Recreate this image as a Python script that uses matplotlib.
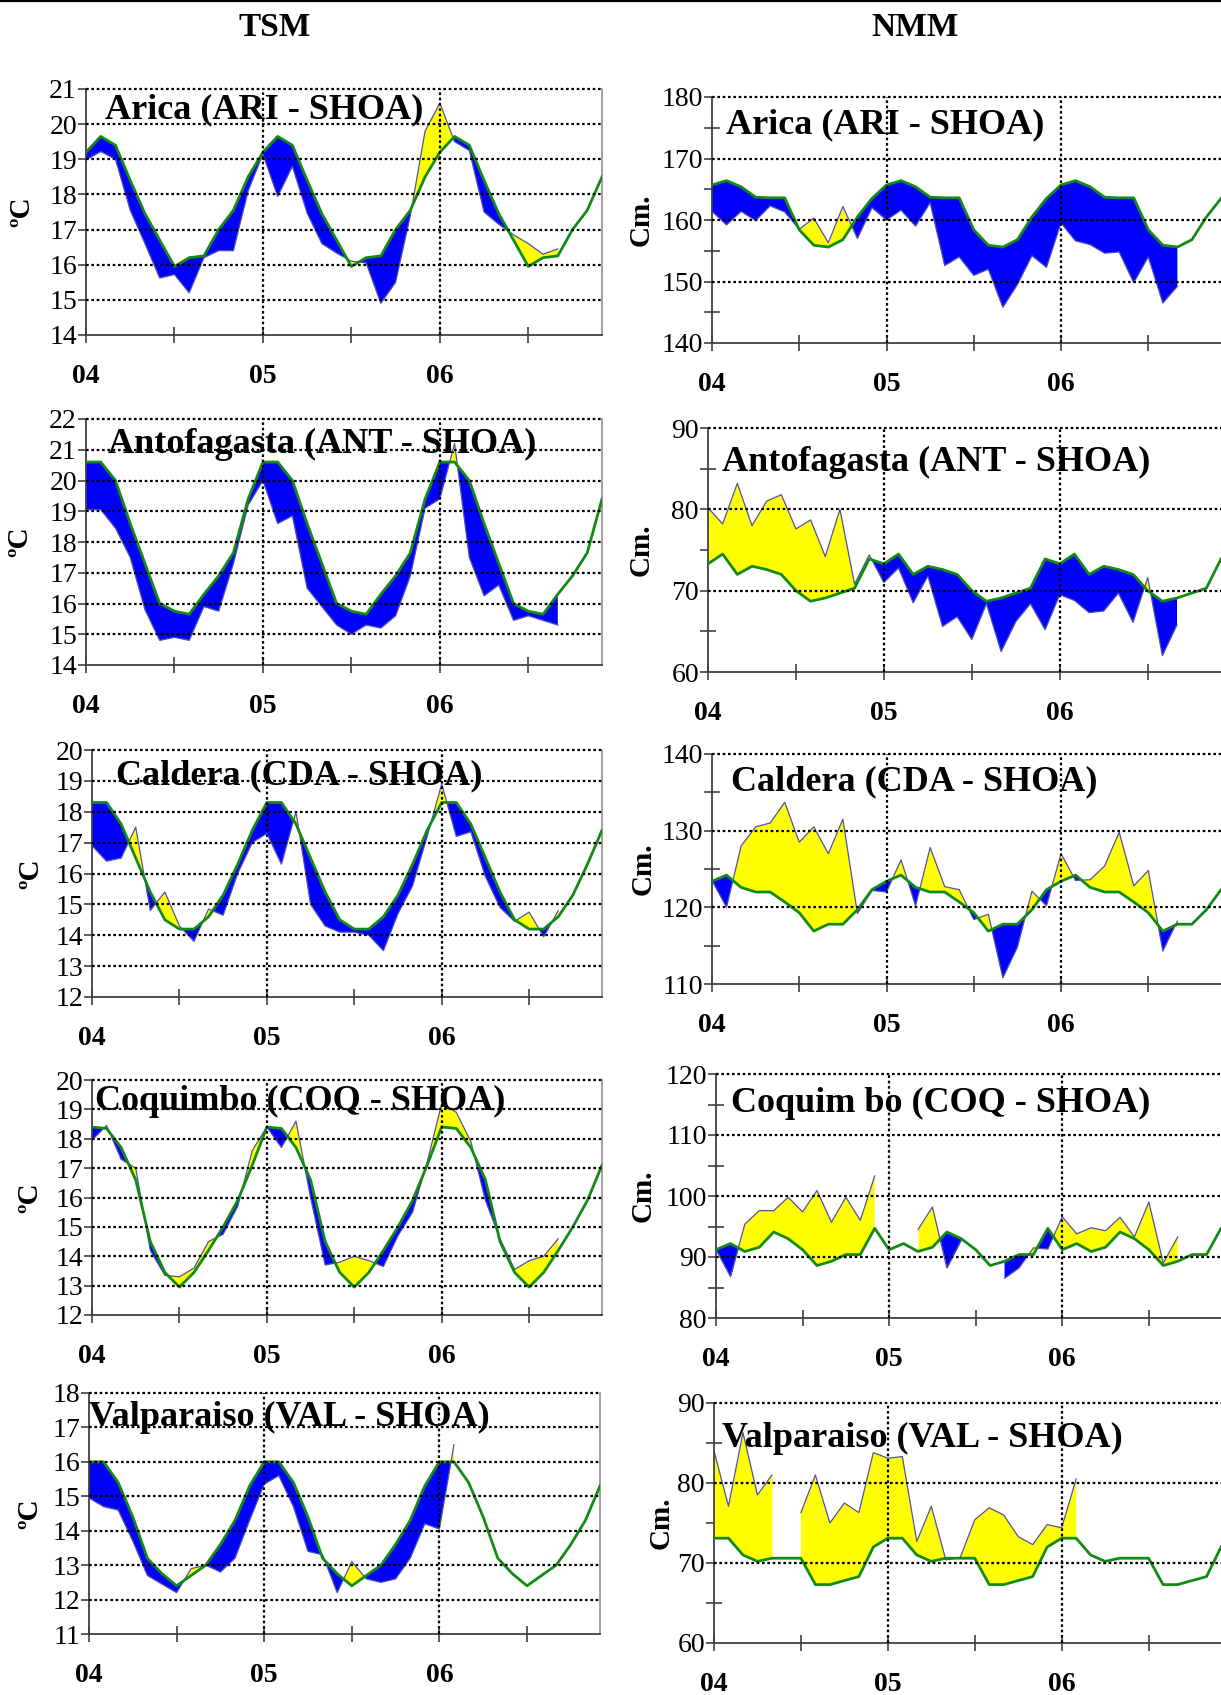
import numpy as np
import matplotlib
matplotlib.use("Agg")
import matplotlib.pyplot as plt
from matplotlib.lines import Line2D
from matplotlib.ticker import MultipleLocator

plt.rcParams['font.family'] = ['Liberation Serif', 'DejaVu Serif']

W, H = 1221, 1695

# monthly index: 0 = Jan 2004 ... 35 = Dec 2006
x_labels = ['04', '', '05', '', '06', '']

# ---- TSM (sea surface temperature, degC) ----
tsm_ari_clim = [19.2, 19.65, 19.4, 18.4, 17.45, 16.7, 15.95, 16.2, 16.25, 17.0, 17.55, 18.5,
                19.2, 19.65, 19.4, 18.4, 17.45, 16.7, 15.95, 16.2, 16.25, 17.0, 17.55, 18.5,
                19.2, 19.65, 19.4, 18.4, 17.45, 16.7, 15.95, 16.2, 16.25, 17.0, 17.55, 18.5]
tsm_ari_obs = [18.98, 19.22, 19.0, 17.55, 16.6, 15.62, 15.72, 15.2, 16.2, 16.4, 16.4, 18.1,
               19.15, 17.94, 18.8, 17.47, 16.6, 16.33, 16.1, 16.05, 14.9, 15.5, 17.4, 19.8,
               20.6, 19.5, 19.25, 17.5, 17.15, 16.85, 16.6, 16.3, 16.45]

tsm_ant_clim = [20.6, 20.6, 20.0, 18.6, 17.3, 16.0, 15.75, 15.65, 16.3, 16.9, 17.65, 19.4,
                20.6, 20.6, 20.0, 18.6, 17.3, 16.0, 15.75, 15.65, 16.3, 16.9, 17.65, 19.4,
                20.6, 20.6, 20.0, 18.6, 17.3, 16.0, 15.75, 15.65, 16.3, 16.9, 17.65, 19.4]
tsm_ant_obs = [19.05, 19.05, 18.45, 17.5, 15.8, 14.8, 14.9, 14.8, 15.9, 15.75, 17.3, 19.2,
               20.0, 18.6, 18.85, 16.5, 15.9, 15.3, 15.0, 15.3, 15.2, 15.6, 16.9, 19.1,
               19.4, 21.2, 17.5, 16.25, 16.6, 15.45, 15.6, 15.45, 15.3]

tsm_cda_clim = [18.3, 18.3, 17.6, 16.5, 15.4, 14.5, 14.2, 14.2, 14.6, 15.3, 16.3, 17.4,
                18.3, 18.3, 17.6, 16.5, 15.4, 14.5, 14.2, 14.2, 14.6, 15.3, 16.3, 17.4,
                18.3, 18.3, 17.6, 16.5, 15.4, 14.5, 14.2, 14.2, 14.6, 15.3, 16.3, 17.4]
tsm_cda_obs = [16.9, 16.4, 16.5, 17.5, 14.8, 15.4, 14.3, 13.8, 14.85, 14.65, 16.0, 17.0,
               17.3, 16.3, 18.0, 15.0, 14.3, 14.1, 14.1, 14.0, 13.5, 14.7, 15.6, 17.2,
               18.9, 17.2, 17.35, 15.9, 14.9, 14.45, 14.75, 13.95, 14.8]

tsm_coq_clim = [18.4, 18.35, 17.7, 16.6, 14.5, 13.45, 12.95, 13.45, 14.2, 15.0, 15.9, 17.1,
                18.4, 18.35, 17.7, 16.6, 14.5, 13.45, 12.95, 13.45, 14.2, 15.0, 15.9, 17.1,
                18.4, 18.35, 17.7, 16.6, 14.5, 13.45, 12.95, 13.45, 14.2, 15.0, 15.9, 17.1]
tsm_coq_obs = [17.95, 18.45, 17.3, 17.0, 14.2, 13.35, 13.3, 13.6, 14.5, 14.75, 15.7, 17.6,
               18.4, 17.7, 18.6, 16.0, 13.7, 13.8, 14.0, 13.85, 13.65, 14.7, 15.5, 17.2,
               19.2, 18.9, 17.9, 15.9, 14.6, 13.55, 13.85, 14.0, 14.6]

tsm_val_clim = [16.0, 16.0, 15.4, 14.4, 13.2, 12.75, 12.4, 12.7, 13.0, 13.6, 14.3, 15.3,
                16.0, 16.0, 15.4, 14.4, 13.2, 12.75, 12.4, 12.7, 13.0, 13.6, 14.3, 15.3,
                16.0, 16.0, 15.4, 14.4, 13.2, 12.75, 12.4, 12.7, 13.0, 13.6, 14.3, 15.3]
tsm_val_obs = [14.95, 14.7, 14.6, 13.7, 12.7, 12.45, 12.2, 12.9, 13.0, 12.8, 13.2, 14.3,
               15.35, 15.6, 14.7, 13.4, 13.3, 12.2, 13.1, 12.6, 12.5, 12.6, 13.2, 14.2,
               14.05, 16.5]

# ---- NMM (mean sea level, cm) ----
nmm_ari_clim = [165.7, 166.4, 165.4, 163.7, 163.6, 163.6, 158.4, 155.9, 155.6, 156.8, 160.5, 163.5,
                165.7, 166.4, 165.4, 163.7, 163.6, 163.6, 158.4, 155.9, 155.6, 156.8, 160.5, 163.5,
                165.7, 166.4, 165.4, 163.7, 163.6, 163.6, 158.4, 155.9, 155.6, 156.8, 160.5, 163.5]
nmm_ari_obs = [161.4, 159.2, 161.4, 159.9, 162.3, 161.3, 158.5, 160.3, 156.3, 162.2, 157.0, 162.0,
               160.0, 161.6, 159.0, 162.8, 152.6, 154.0, 151.0, 152.0, 145.8, 149.5, 154.2, 152.3,
               159.5, 156.6, 156.0, 154.6, 154.8, 149.8, 154.0, 146.5, 149.2]

nmm_ant_clim = [73.3, 74.5, 72.0, 73.0, 72.6, 72.0, 70.0, 68.7, 69.1, 69.7, 70.3, 73.9,
                73.3, 74.5, 72.0, 73.0, 72.6, 72.0, 70.0, 68.7, 69.1, 69.7, 70.3, 73.9,
                73.3, 74.5, 72.0, 73.0, 72.6, 72.0, 70.0, 68.7, 69.1, 69.7, 70.3, 73.9]
nmm_ant_obs = [80.2, 78.2, 83.2, 78.0, 81.0, 81.8, 77.6, 78.7, 74.2, 80.0, 70.8, 74.4,
               71.0, 72.8, 68.5, 71.8, 65.6, 66.8, 64.0, 68.4, 62.5, 66.2, 68.4, 65.2,
               69.5, 68.8, 67.3, 67.5, 69.7, 66.1, 71.6, 62.0, 65.8]

nmm_cda_clim = [123.4, 124.2, 122.6, 122.0, 122.0, 120.7, 119.3, 116.9, 117.8, 117.8, 119.7, 122.3,
                123.4, 124.2, 122.6, 122.0, 122.0, 120.7, 119.3, 116.9, 117.8, 117.8, 119.7, 122.3,
                123.4, 124.2, 122.6, 122.0, 122.0, 120.7, 119.3, 116.9, 117.8, 117.8, 119.7, 122.3]
nmm_cda_obs = [123.5, 120.0, 128.0, 130.5, 131.0, 133.7, 128.5, 130.5, 127.0, 131.5, 119.2, 122.2,
               122.0, 126.2, 120.2, 127.8, 122.7, 122.3, 118.4, 119.1, 110.8, 114.8, 122.1, 120.2,
               127.0, 123.5, 123.6, 125.4, 129.8, 122.8, 124.8, 114.3, 118.2]

nmm_coq_clim = [91.2, 92.2, 90.9, 91.6, 94.1, 93.0, 91.2, 88.6, 89.3, 90.4, 90.4, 94.7,
                91.2, 92.2, 90.9, 91.6, 94.1, 93.0, 91.2, 88.6, 89.3, 90.4, 90.4, 94.7,
                91.2, 92.2, 90.9, 91.6, 94.1, 93.0, 91.2, 88.6, 89.3, 90.4, 90.4, 94.7]
nmm_coq_obs = [91.2, 86.8, 95.4, 97.6, 97.6, 99.8, 97.4, 100.9, 95.7, 99.8, 96.0, 103.3,
               np.nan, np.nan, 94.5, 98.2, 88.2, 92.8, np.nan, np.nan, 86.5, 88.2, 91.5, 91.3,
               96.6, 93.8, 94.8, 94.3, 96.5, 93.3, 99.0, 89.0, 93.3]

nmm_val_clim = [73.1, 73.1, 71.0, 70.2, 70.6, 70.6, 70.6, 67.3, 67.3, 67.8, 68.3, 72.0,
                73.1, 73.1, 71.0, 70.2, 70.6, 70.6, 70.6, 67.3, 67.3, 67.8, 68.3, 72.0,
                73.1, 73.1, 71.0, 70.2, 70.6, 70.6, 70.6, 67.3, 67.3, 67.8, 68.3, 72.0]
nmm_val_obs = [84.0, 77.1, 86.3, 78.5, 81.0, np.nan, 76.3, 81.0, 75.0, 77.5, 76.3, 83.8,
               83.1, 83.3, 72.7, 77.1, 70.4, 70.7, 75.4, 76.9, 76.0, 73.3, 72.3, 74.8,
               74.4, 80.5]

tsm_titles = ['Arica (ARI - SHOA)', 'Antofagasta (ANT - SHOA)', 'Caldera (CDA - SHOA)',
              'Coquimbo (COQ - SHOA)', 'Valparaiso (VAL - SHOA)']
nmm_titles = ['Arica (ARI - SHOA)', 'Antofagasta (ANT - SHOA)', 'Caldera (CDA - SHOA)',
              'Coquim bo (COQ - SHOA)', 'Valparaiso (VAL - SHOA)']
tsm_ylims = [(14, 21), (14, 22), (12, 20), (12, 20), (11, 18)]
nmm_ylims = [(140, 180), (60, 90), (110, 140), (80, 120), (60, 90)]

# layout in pixels: (left, top, right, bottom)
tsm_box = [(86, 89, 602, 335), (86, 419, 602, 665), (92, 750, 602, 997),
           (92, 1080, 602, 1315), (89, 1393, 600, 1634)]
nmm_box = [(712, 97, 1221, 343), (708, 428, 1221, 672), (712, 754, 1221, 984),
           (716, 1074, 1221, 1318), (714, 1403, 1221, 1643)]
tsm_title_xy = [(105, 110), (108, 444), (116, 776), (95, 1101), (89, 1417)]
nmm_title_xy = [(726, 125), (722, 462), (731, 782), (731, 1103), (722, 1438)]
tsm_ylab_x = [22, 20, 31, 30, 30]
nmm_ylab_x = [641, 641, 643, 643, 661]

YELLOW = '#ffff00'
BLUE = '#0000ff'
GREEN = '#138a13'
OBS_LINE = '#5050b0'
SPINE = '#404040'
DOTS = (0, (1.2, 1.2))


def fill_runs(ax, obs, clim):
    # fill each continuous stretch of observations separately (vertical edges at gaps)
    o = np.array(obs, dtype=float)
    c = np.array(clim[:len(o)], dtype=float)
    x = np.arange(len(o))
    ok = np.isfinite(o)
    start = None
    for i in range(len(o) + 1):
        if i < len(o) and ok[i]:
            if start is None:
                start = i
        elif start is not None:
            sl = slice(start, i)
            ax.fill_between(x[sl], o[sl], c[sl], where=o[sl] >= c[sl], interpolate=True,
                            color=YELLOW, lw=0, zorder=2)
            ax.fill_between(x[sl], o[sl], c[sl], where=o[sl] <= c[sl], interpolate=True,
                            color=BLUE, lw=0, zorder=2)
            ax.plot(x[sl], o[sl], color=OBS_LINE, lw=0.9, zorder=2.5)
            start = None


def draw_panel(fig, box, clim, obs, ylim, major, minor, title, title_xy, ylab, ylab_x, right_spine):
    l, t, r, b = box
    ax = fig.add_axes([l / W, 1 - b / H, (r - l) / W, (b - t) / H])
    fill_runs(ax, obs, clim)
    ax.plot(np.arange(len(clim)), clim, color=GREEN, lw=2, zorder=3)

    ax.set_xlim(0, 35)
    ax.set_ylim(*ylim)

    # dotted grid
    for v in np.arange(ylim[0] + major, ylim[1] + major / 2, major):
        ax.axhline(v, color='black', lw=1.6, ls=DOTS, zorder=4, clip_on=False)
    for v in (12, 24):
        ax.axvline(v, color='black', lw=1.6, ls=DOTS, zorder=4)

    ax.spines['top'].set_visible(False)
    if right_spine:
        ax.spines['right'].set_color('#909090')
        ax.spines['right'].set_linewidth(1.2)
    else:
        ax.spines['right'].set_visible(False)
    for s in ('left', 'bottom'):
        ax.spines[s].set_color(SPINE)
        ax.spines[s].set_linewidth(1.3)

    ax.set_xticks(range(0, 31, 6))
    ax.set_xticklabels(x_labels)
    for lbl in ax.get_xticklabels():
        lbl.set_fontweight('bold')
    ax.yaxis.set_major_locator(MultipleLocator(major))
    if minor:
        ax.yaxis.set_minor_locator(MultipleLocator(minor))
    ax.tick_params(axis='x', which='major', direction='inout', length=12, width=1.2,
                   color=SPINE, labelsize=20, pad=15)
    ax.tick_params(axis='y', which='major', direction='out', length=5.5, width=1.2,
                   color=SPINE, labelsize=20, pad=1)
    ax.tick_params(axis='y', which='minor', direction='inout', length=11, width=1.2, color=SPINE)

    ax.text(title_xy[0] / W, 1 - title_xy[1] / H, title, transform=fig.transFigure,
            ha='left', va='center', fontsize=26, fontweight='bold', zorder=3.5)
    yc = (t + b) / 2
    fig.text(ylab_x / W, 1 - yc / H, ylab, rotation=90, ha='center', va='center',
             fontsize=21, fontweight='bold')
    return ax


fig = plt.figure(figsize=(W / 100, H / 100), dpi=100)
fig.patch.set_facecolor('white')

# black rule along the top of the page
fig.add_artist(Line2D([0, 1], [1 - 1.2 / H, 1 - 1.2 / H], color='black', lw=1.6,
                      transform=fig.transFigure))

fig.text(275 / W, 1 - 28 / H, 'TSM', ha='center', va='center', fontsize=24, fontweight='bold')
fig.text(915 / W, 1 - 28 / H, 'NMM', ha='center', va='center', fontsize=24, fontweight='bold')

tsm_data = [(tsm_ari_clim, tsm_ari_obs), (tsm_ant_clim, tsm_ant_obs), (tsm_cda_clim, tsm_cda_obs),
            (tsm_coq_clim, tsm_coq_obs), (tsm_val_clim, tsm_val_obs)]
nmm_data = [(nmm_ari_clim, nmm_ari_obs), (nmm_ant_clim, nmm_ant_obs), (nmm_cda_clim, nmm_cda_obs),
            (nmm_coq_clim, nmm_coq_obs), (nmm_val_clim, nmm_val_obs)]

for i in range(5):
    clim, obs = tsm_data[i]
    draw_panel(fig, tsm_box[i], clim, obs, tsm_ylims[i], 1, None, tsm_titles[i],
               tsm_title_xy[i], 'ºC', tsm_ylab_x[i], True)
    clim, obs = nmm_data[i]
    draw_panel(fig, nmm_box[i], clim, obs, nmm_ylims[i], 10, 5, nmm_titles[i],
               nmm_title_xy[i], 'Cm.', nmm_ylab_x[i], False)

plt.savefig('out.png', dpi=100, facecolor='white')
